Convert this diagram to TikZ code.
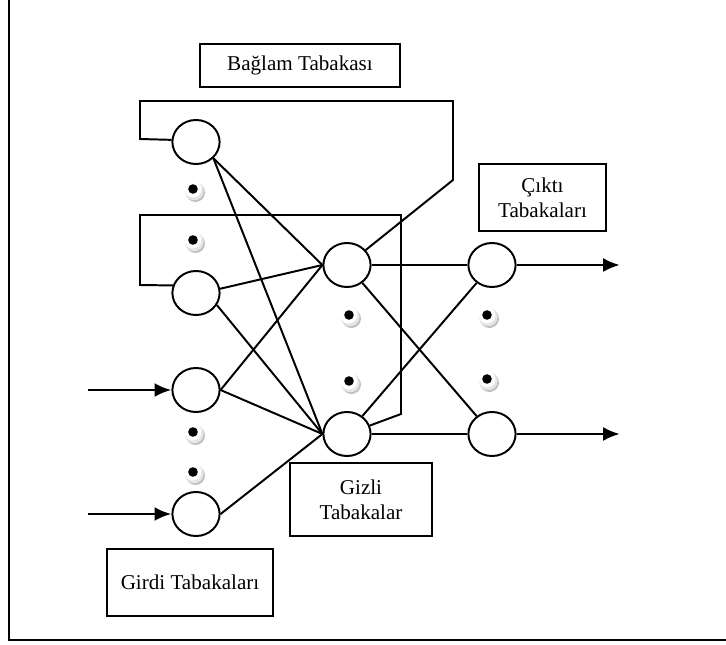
\documentclass[tikz,border=0pt]{standalone}
\usepackage{fontspec}
\setmainfont{Liberation Serif}
\usetikzlibrary{shapes.geometric,arrows.meta}

\begin{document}
\begin{tikzpicture}[x=0.025cm,y=-0.025cm,line width=1.4pt,
  every node/.style={font=\fontsize{15}{18}\selectfont},
  unit/.style={draw,ellipse,inner sep=0,minimum width=1.18cm,minimum height=1.1cm,fill=white},
  layerbox/.style={draw,rectangle,align=center,inner sep=0},
  feed/.style={line width=2pt,-{Latex[length=12pt,width=10pt]}},
  bead/.pic={
    \fill [gray!50] (2.5,3.5) circle [radius=9.5];
    \fill [gray!20] (1.2,1.8) circle [radius=9.5];
    \fill [white] (0,0) circle [radius=8.5];
    \fill [black] (0,0) circle [radius=4.8];
  }]

\useasboundingbox (0,0) rectangle (726,645);

\draw [line width=1.6pt] (9,0) -- (9,640) -- (726,640);

\node [layerbox,minimum width=5cm,minimum height=1.075cm] (ctxlabel) at (300,65.5) {Bağlam Tabakası};

\node [layerbox,minimum width=3.175cm,minimum height=1.675cm] (outlabel) at (542.5,197.5) {Çıktı\\Tabakaları};

\node [layerbox,minimum width=3.55cm,minimum height=1.825cm] (hidlabel) at (361,499.5) {Gizli\\Tabakalar};

\node [layerbox,minimum width=4.15cm,minimum height=1.675cm] (inlabel) at (190,582.5) {Girdi Tabakaları};

\node [unit] (c1) at (196,142) {};
\node [unit] (c2) at (196,293) {};
\node [unit] (i1) at (196,390) {};
\node [unit] (i2) at (196,514) {};
\node [unit] (h1) at (347,265) {};
\node [unit] (h2) at (347,434) {};
\node [unit] (o1) at (492,265) {};
\node [unit] (o2) at (492,434) {};

\coordinate (k1) at (453,180);
\coordinate (k2) at (453,101);
\coordinate (k3) at (140,101);
\coordinate (k4) at (140,139);

\coordinate (m1) at (401,414);
\coordinate (m2) at (401,215);
\coordinate (m3) at (140,215);
\coordinate (m4) at (140,285);

\coordinate (in1) at (88,390);
\coordinate (in2) at (88,514);
\coordinate (out1) at (620,265);
\coordinate (out2) at (620,434);

\draw (h1) -- (k1) -- (k2) -- (k3) -- (k4) -- (c1.175);

\draw (h2) -- (m1) -- (m2) -- (m3) -- (m4) -- (c2.162);

\draw (c1.south east) -- (h1.west);
\draw (c1.south east) -- (h2.west);
\draw (c2.10) -- (h1.west);
\draw (c2.-30) -- (h2.west);
\draw (i1.east) -- (h1.west);
\draw (i1.east) -- (h2.west);
\draw (i2.east) -- (h2.west);

\draw (h1) -- (o1);
\draw (h1) -- (o2);
\draw (h2) -- (o1);
\draw (h2) -- (o2);

\draw [feed] (in1) -- (i1);
\draw [feed] (in2) -- (i2);
\draw [feed] (o1) -- (out1);
\draw [feed] (o2) -- (out2);

\pic at (193,189) {bead};
\pic at (193,240) {bead};
\pic at (193,432) {bead};
\pic at (193,472) {bead};
\pic at (349,315) {bead};
\pic at (349,381) {bead};
\pic at (487,315) {bead};
\pic at (487,379) {bead};

\end{tikzpicture}
\end{document}
